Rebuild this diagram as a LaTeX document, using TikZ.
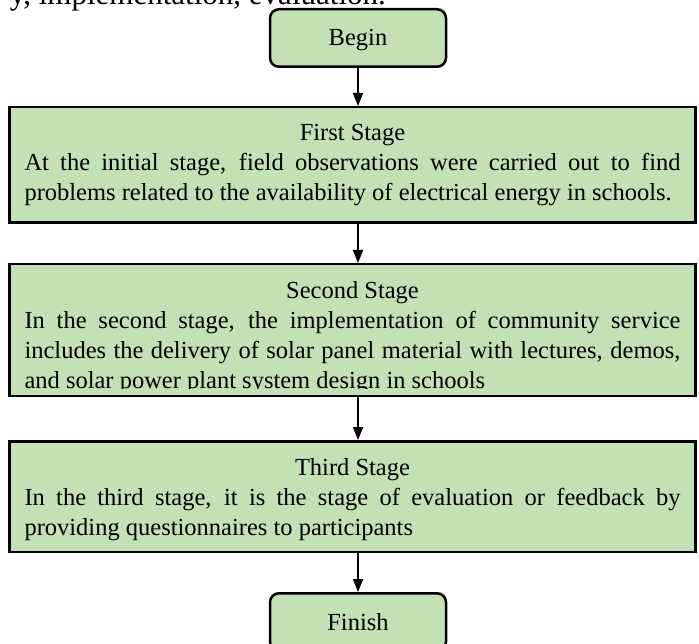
\documentclass[tikz,border=0pt]{standalone}
\usepackage{fontspec}
\setmainfont{Liberation Serif}
\usetikzlibrary{arrows.meta, positioning}
\definecolor{stagegreen}{HTML}{C5E0B4}
\newcommand{\flowfont}{\fontsize{24.5}{30}\selectfont}

\tikzset{
  stagebox/.style={draw, line width=2.5pt, fill=stagegreen,
                   minimum width=686pt, inner sep=0pt},
  endbox/.style={draw, line width=2.5pt, fill=stagegreen, rounded corners=9pt,
                 minimum width=176pt, minimum height=57.5pt, inner sep=0pt,
                 text height=16pt, text depth=0pt, font=\flowfont},
  stagetext/.style={text width=656pt, align=justify, font=\flowfont,
                    anchor=north, inner sep=0pt},
  flow/.style={-{Triangle[length=13pt, width=10pt]}, line width=1.8pt}
}

\begin{document}
\begin{tikzpicture}[x=1pt, y=-1pt]
  \useasboundingbox (0,0) rectangle (699,644);
  \clip (0,0) rectangle (699,644);
  %--- running text cut off above the figure ---------------------------------
  \node[font=\fontsize{31}{36}\selectfont, anchor=base east, inner sep=0pt]
    (bodyline) at (386,5) {y, implementation, evaluation.};
  %--- boxes -----------------------------------------------------------------
  \node[endbox] (begin) at (358,38) {Begin};
  \node[stagebox, minimum height=115.5pt, below=38pt of begin, xshift=-5.5pt]
    (first) {};
  \node[stagebox, minimum height=131.5pt, below=39pt of first] (second) {};
  \node[stagebox, minimum height=110.5pt, below=43pt of second] (third) {};
  \node[endbox, below=39pt of third, xshift=5.5pt] (finish) {Finish};
  %--- stage texts -----------------------------------------------------------
  \node[stagetext] (firsttext) at ([yshift=-18pt]first.north)
    {\centerline{First Stage}
     \noindent At the initial stage, field observations were carried out to
     find\linebreak problems related to the availability of electrical energy
     in schools.};
  \begin{scope}
    \clip ([yshift=-1pt]second.north west) rectangle (697,388);
    \node[stagetext] (secondtext) at ([yshift=-18pt]second.north)
      {\centerline{Second Stage}
       \noindent In the second stage, the implementation of community
       service\linebreak includes the delivery of solar panel material with
       lectures, demos,\linebreak and solar power plant system design in
       schools};
  \end{scope}
  \node[stagetext] (thirdtext) at ([yshift=-18pt]third.north)
    {\centerline{Third Stage}
     \noindent In the third stage, it is the stage of evaluation or feedback
     by\linebreak providing questionnaires to participants};
  %--- connectors ------------------------------------------------------------
  \draw[flow] (begin) -- (begin.south |- first.north);
  \draw[flow] (begin.south |- first.south) -- (begin.south |- second.north);
  \draw[flow] (begin.south |- second.south) -- (begin.south |- third.north);
  \draw[flow] (begin.south |- third.south) -- (finish);
\end{tikzpicture}
\end{document}
